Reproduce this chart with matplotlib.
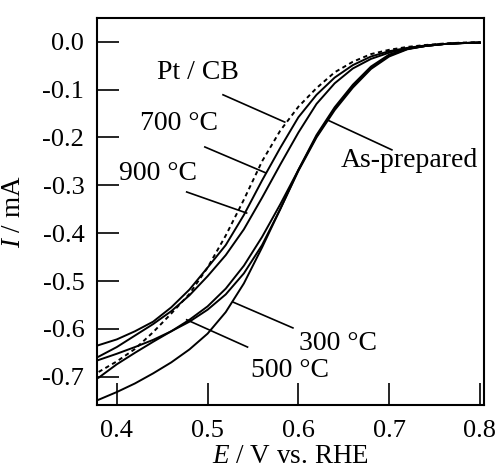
import matplotlib
matplotlib.use('Agg')
import matplotlib.pyplot as plt

plt.rcParams['font.family'] = 'Liberation Serif'
plt.rcParams['mathtext.fontset'] = 'custom'
plt.rcParams['mathtext.rm'] = 'Liberation Serif'
plt.rcParams['mathtext.it'] = 'Liberation Serif:italic'
plt.rcParams['axes.unicode_minus'] = False

# potential grid (V vs. RHE)
E = [0.38, 0.40, 0.42, 0.44, 0.46, 0.48, 0.50, 0.52, 0.54, 0.56, 0.58,
     0.60, 0.62, 0.64, 0.66, 0.68, 0.70, 0.72, 0.74, 0.76, 0.78, 0.80]

# current (mA)
i_ptcb = [-0.690, -0.668, -0.642, -0.607, -0.568, -0.527, -0.472, -0.405, -0.330, -0.250, -0.186,
          -0.136, -0.097, -0.064, -0.042, -0.026, -0.017, -0.011, -0.007, -0.004, -0.002, -0.001]
i_900 = [-0.634, -0.622, -0.605, -0.585, -0.555, -0.518, -0.472, -0.425, -0.362, -0.290, -0.222,
         -0.158, -0.111, -0.075, -0.049, -0.031, -0.020, -0.013, -0.008, -0.005, -0.003, -0.002]
i_700 = [-0.658, -0.638, -0.614, -0.590, -0.563, -0.530, -0.490, -0.446, -0.392, -0.326, -0.257,
         -0.190, -0.130, -0.087, -0.056, -0.036, -0.023, -0.014, -0.009, -0.005, -0.003, -0.002]
i_asprep = [-0.665, -0.652, -0.638, -0.623, -0.605, -0.585, -0.560, -0.528, -0.484, -0.425, -0.350,
            -0.268, -0.195, -0.137, -0.090, -0.052, -0.027, -0.015, -0.009, -0.005, -0.003, -0.002]
i_500 = [-0.702, -0.674, -0.650, -0.627, -0.605, -0.581, -0.553, -0.516, -0.468, -0.408, -0.340,
         -0.268, -0.198, -0.140, -0.093, -0.055, -0.029, -0.015, -0.009, -0.005, -0.003, -0.002]
i_300 = [-0.748, -0.732, -0.714, -0.693, -0.670, -0.643, -0.610, -0.565, -0.505, -0.430, -0.350,
         -0.270, -0.200, -0.143, -0.096, -0.057, -0.031, -0.016, -0.009, -0.005, -0.003, -0.002]

xticks = [0.4, 0.5, 0.6, 0.7, 0.8]
yticks = [0.0, -0.1, -0.2, -0.3, -0.4, -0.5, -0.6, -0.7]

fig = plt.figure(figsize=(4.99, 4.74), dpi=100)
ax = fig.add_axes([0.194, 0.1456, 0.776, 0.8165])

lw = 1.4
ax.plot(E, i_ptcb, color='black', lw=lw, ls=(0, (2.2, 1.8)))
for cur in [i_900, i_700, i_asprep, i_500, i_300]:
    ax.plot(E, cur, color='black', lw=lw)

ax.set_xlim(0.378, 0.8045)
ax.set_ylim(-0.759, 0.0495)
ax.set_xticks(xticks)
ax.set_xticklabels(['%.1f' % v for v in xticks])
ax.set_yticks(yticks)
ax.set_yticklabels(['%.1f' % v if v != 0 else '0.0' for v in yticks])
ax.tick_params(direction='in', length=16, width=1.2, labelsize=19,
               top=False, right=False)
ax.tick_params(axis='x', pad=11)
ax.tick_params(axis='y', pad=9)
for sp in ax.spines.values():
    sp.set_linewidth(1.5)

ax.set_xlabel(r'$\mathit{E}$ / V vs. RHE', fontsize=19.5)
ax.set_ylabel(r'$\mathit{I}$ / mA', fontsize=19.5)
ax.xaxis.set_label_coords(0.5, -0.10)
ax.yaxis.set_label_coords(-0.183, 0.5)

# labels with leader lines: (text, text xy, line start, line end)
labels = [
    ('Pt / CB', (0.489, -0.065), (0.517, -0.111), (0.585, -0.168)),
    ('700 °C', (0.468, -0.172), (0.497, -0.220), (0.564, -0.274)),
    ('900 °C', (0.445, -0.276), (0.477, -0.314), (0.543, -0.358)),
    ('As-prepared', (0.722, -0.249), (0.6325, -0.164), (0.703, -0.226)),
    ('300 °C', (0.6435, -0.630), (0.528, -0.544), (0.594, -0.598)),
    ('500 °C', (0.5906, -0.688), (0.477, -0.581), (0.544, -0.638)),
]
for txt, pos, p0, p1 in labels:
    ax.text(pos[0], pos[1], txt, fontsize=20, ha='center', va='center')
    ax.plot([p0[0], p1[0]], [p0[1], p1[1]], color='black', lw=1.2)

fig.savefig('out.png', dpi=100)
